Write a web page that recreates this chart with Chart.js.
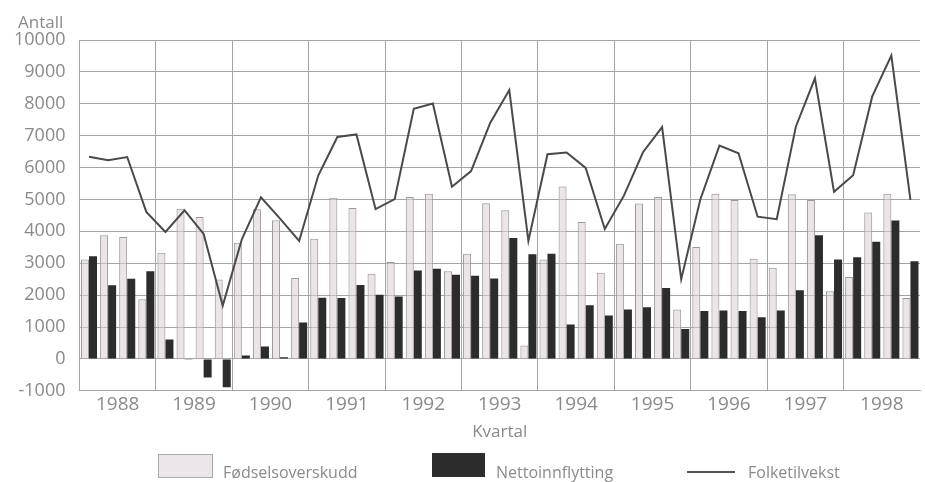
<!DOCTYPE html>
<html>
<head>
<meta charset="utf-8">
<script src="https://cdn.jsdelivr.net/npm/chart.js@4.4.0/dist/chart.umd.js"></script>
<style>
    body { margin: 0; background: #fff; font-family: "Open Sans", sans-serif; color: #8a8a8a; }
    #wrap { position: relative; width: 925px; height: 482px; }
    #chartBox { position: absolute; left: 0; top: 0; width: 925px; height: 482px; }
    .txt { position: absolute; font-size: 16px; color: #8a8a8a; white-space: nowrap; }
    .box { position: absolute; }
</style>
</head>
<body>
<div id="wrap">
    <div id="chartBox"><canvas id="befChart"></canvas></div>
    <div class="txt" style="left:18px; top:10px; font-size:17px;">Antall</div>
    <div class="box" style="left:158px; top:454px; width:53px; height:22px; background:#ebe6e9; border:1px solid #aaa;"></div>
    <div class="txt" style="left:223px; top:461px;">Fødselsoverskudd</div>
    <div class="box" style="left:432px; top:453px; width:53px; height:24px; background:#2c2c2c;"></div>
    <div class="txt" style="left:496px; top:461px;">Nettoinnflytting</div>
    <div class="box" style="left:687px; top:471px; width:48px; height:2px; background:#555;"></div>
    <div class="txt" style="left:748px; top:461px;">Folketilvekst</div>
</div>
<script>
// Kvartalsvise tall 1988-1998
const years = ['1988', '1989', '1990', '1991', '1992', '1993', '1994', '1995', '1996', '1997', '1998'];
const quarters = years.flatMap(y => ['K1', 'K2', 'K3', 'K4'].map(q => y + q));

const fodselsoverskudd = [
    3120, 3880, 3820, 1870,
    3330, 4710, 4450, 2490,
    3640, 4690, 4350, 2540,
    3770, 5050, 4730, 2670,
    3040, 5080, 5180, 2750,
    3300, 4880, 4660, 420,
    3120, 5410, 4290, 2700,
    3610, 4870, 5080, 1550,
    3510, 5180, 4980, 3140,
    2860, 5160, 4980, 2120,
    2570, 4590, 5180, 1910
];

const nettoinnflytting = [
    3220, 2310, 2510, 2750,
    610, -30, -580, -890,
    110, 390, 50, 1140,
    1920, 1910, 2320, 2010,
    1960, 2770, 2830, 2640,
    2610, 2520, 3790, 3280,
    3300, 1080, 1680, 1360,
    1550, 1620, 2220, 940,
    1500, 1520, 1500, 1310,
    1520, 2150, 3880, 3120,
    3190, 3670, 4340, 3060
];

const folketilvekst = [
    6340, 6230, 6330, 4610,
    3980, 4660, 3920, 1670,
    3750, 5070, 4400, 3700,
    5750, 6960, 7040, 4700,
    5010, 7840, 8010, 5400,
    5890, 7400, 8430, 3700,
    6420, 6470, 5990, 4070,
    5120, 6480, 7270, 2500,
    5000, 6690, 6450, 4460,
    4380, 7280, 8800, 5240,
    5760, 8230, 9510, 4990
];

const grey = '#8a8a8a';
const gridGrey = '#a5a5a5';

new Chart(document.getElementById('befChart'), {
    type: 'bar',
    data: {
        labels: quarters,
        datasets: [
            {
                label: 'Fødselsoverskudd',
                data: fodselsoverskudd,
                backgroundColor: 'rgba(218, 208, 213, 0.55)',
                borderColor: '#9a9a9a',
                borderWidth: 1,
                order: 2
            },
            {
                label: 'Nettoinnflytting',
                data: nettoinnflytting,
                backgroundColor: '#2c2c2c',
                borderWidth: 0,
                order: 2
            },
            {
                type: 'line',
                label: 'Folketilvekst',
                data: folketilvekst,
                borderColor: '#4a4a4a',
                borderWidth: 2,
                pointRadius: 0,
                tension: 0,
                order: 1
            }
        ]
    },
    options: {
        responsive: true,
        maintainAspectRatio: false,
        animation: false,
        categoryPercentage: 0.84,
        barPercentage: 1.0,
        layout: { padding: { top: 40, right: 5, bottom: 40, left: 0 } },
        plugins: {
            legend: { display: false },
            tooltip: { enabled: false }
        },
        scales: {
            x: {
                type: 'category',
                offset: true,
                ticks: { display: false },
                grid: {
                    offset: true,
                    drawTicks: false,
                    color: ctx => (ctx.index !== undefined && ctx.index % 4 === 0) ? gridGrey : 'rgba(0,0,0,0)'
                },
                border: { display: true, color: gridGrey }
            },
            xYear: {
                type: 'category',
                labels: years,
                position: 'bottom',
                offset: true,
                grid: { display: false, drawTicks: false },
                border: { display: false },
                ticks: {
                    color: grey,
                    font: { family: 'Open Sans', size: 19 },
                    maxRotation: 0,
                    autoSkip: false,
                    padding: 2
                },
                title: {
                    display: true,
                    text: 'Kvartal',
                    color: grey,
                    font: { family: 'Open Sans', size: 17 },
                    padding: { top: 4, bottom: 0 }
                }
            },
            y: {
                min: -1000,
                max: 10000,
                ticks: {
                    stepSize: 1000,
                    color: grey,
                    font: { family: 'Open Sans', size: 18 },
                    padding: 14,
                    callback: v => String(v)
                },
                grid: { color: gridGrey, drawTicks: false },
                border: { display: true, color: gridGrey }
            }
        }
    }
});
</script>
</body>
</html>
